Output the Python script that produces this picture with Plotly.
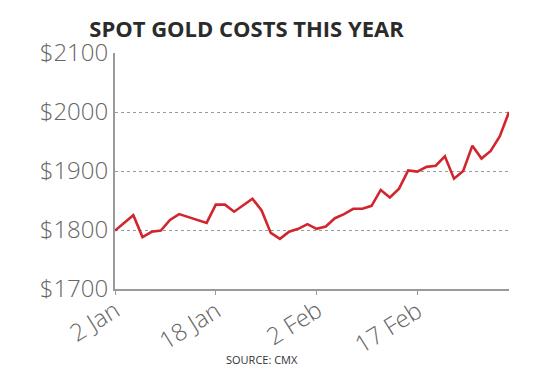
import plotly.graph_objects as go

# Data: trading-day index and spot gold price
prices = [1799, 1812, 1825, 1788, 1797, 1799, 1817, 1827, 1822, 1817,
          1812, 1843, 1843, 1831, 1842, 1853, 1833, 1795, 1785, 1797,
          1802, 1810, 1802, 1806, 1820, 1827, 1836, 1836, 1841, 1868,
          1855, 1870, 1901, 1899, 1907, 1909, 1925, 1887, 1900, 1943,
          1921, 1934, 1959, 2000]
days = list(range(len(prices)))
tick_positions = [0, 11, 22, 33]
tick_labels = ["2 Jan", "18 Jan", "2 Feb", "17 Feb"]
y_ticks = [1700, 1800, 1900, 2000, 2100]
y_tick_labels = ["$1700", "$1800", "$1900", "$2000", "$2100"]

# page body has an 8px default margin; compensate so the plot lands in place
OFF = 8

fig = go.Figure()
fig.add_trace(go.Scatter(
    x=days, y=prices, mode="lines",
    line=dict(color="#d2262e", width=2.6),
    hoverinfo="skip", showlegend=False,
))

tick_font = dict(family="Open Sans", size=24, color="#666666", weight=300)

annotations = [dict(
    text=lab, xref="x", yref="paper", x=pos, y=0,
    xanchor="right", yanchor="top", xshift=13, yshift=-1,
    textangle=-32, showarrow=False, font=tick_font,
) for pos, lab in zip(tick_positions, tick_labels)]

annotations.append(dict(
    text="SOURCE: CMX", xref="paper", yref="paper",
    x=(262 - 115) / 394, y=-(359 - 289) / 236,
    xanchor="center", yanchor="middle", showarrow=False,
    font=dict(family="Open Sans", size=11, color="#333333"),
))

fig.update_layout(
    width=557, height=377,
    margin=dict(l=115 - OFF, r=48 + OFF, t=53 - OFF, b=88 + OFF),
    paper_bgcolor="white", plot_bgcolor="white",
    title=dict(
        text="<b>SPOT GOLD COSTS THIS YEAR</b>",
        x=(246.5 - OFF) / 557, xanchor="center",
        y=1 - (29 - OFF) / 377, yanchor="middle",
        font=dict(family="Open Sans", size=22, color="#2b2b2b"),
    ),
    xaxis=dict(
        range=[0, 43], tickvals=tick_positions, showticklabels=False,
        showline=True, linecolor="#9a9a9a", linewidth=2,
        ticks="outside", ticklen=4, tickcolor="#9a9a9a", tickwidth=1,
        showgrid=False, zeroline=False, fixedrange=True,
    ),
    yaxis=dict(
        range=[1700, 2100], tickvals=y_ticks, ticktext=y_tick_labels,
        tickfont=tick_font, ticklabelstandoff=0,
        showline=True, linecolor="#9a9a9a", linewidth=2,
        showgrid=True, gridcolor="#9a9a9a", griddash="dot", gridwidth=1,
        zeroline=False, fixedrange=True,
    ),
    annotations=annotations,
)

fig.write_html("out.html")
